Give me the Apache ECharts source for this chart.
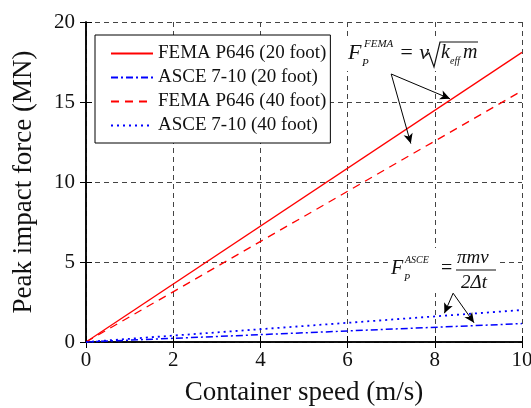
<!DOCTYPE html>
<html>
<head>
<meta charset="utf-8">
<script src="https://cdn.jsdelivr.net/npm/echarts@6/dist/echarts.min.js"></script>
<style>
  html, body { margin: 0; padding: 0; background: #fff; }
  #main { width: 531px; height: 408px; }
</style>
</head>
<body>
<div id="main"></div>
<script>
// speeds (m/s) and peak force (MN)
var speeds = [0, 10];
var fema20 = [0, 18.1];
var asce20 = [0, 1.15];
var fema40 = [0, 15.7];
var asce40 = [0, 2.0];
var seriesNames = ['FEMA P646 (20 foot)', 'ASCE 7-10 (20 foot)', 'FEMA P646 (40 foot)', 'ASCE 7-10 (40 foot)'];

// annotation arrows, in data coords
var femaArrows = [[[7.0, 16.75], [8.35, 15.2]], [[7.0, 16.75], [7.45, 12.4]]];
var asceArrows = [[[8.42, 3.05], [8.22, 1.8]], [[8.42, 3.05], [8.9, 1.2]]];

var serif = 'Liberation Serif';
var myChart = echarts.init(document.getElementById('main'));

function pairs(ys) {
    return speeds.map(function (x, i) { return [x, ys[i]]; });
}
function arrows(list) {
    return {
        silent: true,
        symbol: ['none', 'arrow'],
        symbolSize: [7, 10],
        label: { show: false },
        lineStyle: { color: '#000', type: 'solid', width: 1 },
        data: list.map(function (a) {
            return [{ coord: a[0] }, { coord: a[1] }];
        })
    };
}

var axisLineStyle = { show: true, lineStyle: { color: '#000', width: 1.5 } };
var tick = { show: true, inside: true, length: 6, lineStyle: { color: '#000' } };
var gridLine = { show: true, lineStyle: { color: '#444', type: [5, 4], width: 1 } };

function txt(x, y, s, size, italic) {
    return { type: 'text', x: x, y: y, silent: true, z: 11,
        style: { text: s, font: (italic ? 'italic ' : '') + size + 'px ' + serif, fill: '#111' } };
}
function blank(x, y, w, h) {
    return { type: 'rect', silent: true, z: 10, shape: { x: x, y: y, width: w, height: h }, style: { fill: '#fff' } };
}

myChart.setOption({
    animation: false,
    grid: { left: 86, right: 9, top: 22, bottom: 66, containLabel: false, outerBoundsMode: 'none' },
    legend: {
        left: 95, top: 35,
        orient: 'vertical',
        itemWidth: 42, itemHeight: 10, itemGap: 5,
        padding: [9, 4, 8, 15],
        borderColor: '#000', borderWidth: 1,
        backgroundColor: '#fff',
        itemStyle: { opacity: 0 },
        textStyle: { fontFamily: serif, fontSize: 19, color: '#111' },
        data: seriesNames
    },
    xAxis: [{
        type: 'value', min: 0, max: 10, interval: 2,
        name: 'Container speed (m/s)', nameLocation: 'middle', nameGap: 37,
        nameTextStyle: { fontFamily: serif, fontSize: 27, color: '#111' },
        axisLine: axisLineStyle, axisTick: tick,
        axisLabel: { fontFamily: serif, fontSize: 21, color: '#111', margin: 8 },
        splitLine: gridLine
    }, {
        type: 'value', min: 0, max: 10, interval: 2, position: 'top',
        axisLine: axisLineStyle, axisTick: tick,
        axisLabel: { show: false }, splitLine: { show: false }
    }],
    yAxis: [{
        type: 'value', min: 0, max: 20, interval: 5,
        name: 'Peak impact force (MN)', nameLocation: 'middle', nameGap: 49,
        nameTextStyle: { fontFamily: serif, fontSize: 27, color: '#111' },
        axisLine: axisLineStyle, axisTick: tick,
        axisLabel: { fontFamily: serif, fontSize: 21, color: '#111', margin: 11 },
        splitLine: gridLine
    }, {
        type: 'value', min: 0, max: 20, interval: 5, position: 'right',
        axisLine: axisLineStyle, axisTick: tick,
        axisLabel: { show: false }, splitLine: { show: false }
    }],
    series: [{
        name: seriesNames[0], type: 'line', symbol: 'none', data: pairs(fema20),
        lineStyle: { color: '#ff0000', width: 1.3 }, itemStyle: { color: '#ff0000' },
        markLine: arrows(femaArrows), z: 3
    }, {
        name: seriesNames[1], type: 'line', symbol: 'none', data: pairs(asce20),
        lineStyle: { color: '#0000ff', width: 1.5, type: [7, 3, 2, 3] }, itemStyle: { color: '#0000ff' },
        markLine: arrows(asceArrows), z: 3
    }, {
        name: seriesNames[2], type: 'line', symbol: 'none', data: pairs(fema40),
        lineStyle: { color: '#ff0000', width: 1.3, type: [8, 6] }, itemStyle: { color: '#ff0000' }, z: 3
    }, {
        name: seriesNames[3], type: 'line', symbol: 'none', data: pairs(asce40),
        lineStyle: { color: '#0000ff', width: 1.8, type: [2, 4] }, itemStyle: { color: '#0000ff' }, z: 3
    }],
    graphic: [
        // F_P^FEMA = v sqrt(k_eff m)
        blank(345, 37, 138, 34),
        txt(348, 42, 'F', 22, true),
        txt(364, 39, 'FEMA', 11, true),
        txt(362, 58, 'P', 11, true),
        txt(399, 42, '= v', 22, true),
        { type: 'polyline', silent: true, z: 11, shape: { points: [[425, 56], [429, 53], [434, 67], [440, 42], [478, 42]] },
          style: { stroke: '#111', lineWidth: 1.2, fill: null } },
        txt(441, 43, 'k', 20, true),
        txt(450, 56, 'eff', 10, true),
        txt(463, 43, 'm', 20, true),
        // F_P^ASCE = pi m v / (2 Delta t)
        blank(388, 248, 112, 45),
        txt(391, 259, 'F', 20, true),
        txt(405, 255, 'ASCE', 10, true),
        txt(404, 273, 'P', 10, true),
        txt(441, 259, '=', 20, false),
        txt(457, 248, 'πmv', 19, true),
        { type: 'line', silent: true, z: 11, shape: { x1: 456, y1: 270, x2: 496, y2: 270 }, style: { stroke: '#111', lineWidth: 1 } },
        txt(461, 273, '2Δt', 19, true)
    ]
});
</script>
</body>
</html>
